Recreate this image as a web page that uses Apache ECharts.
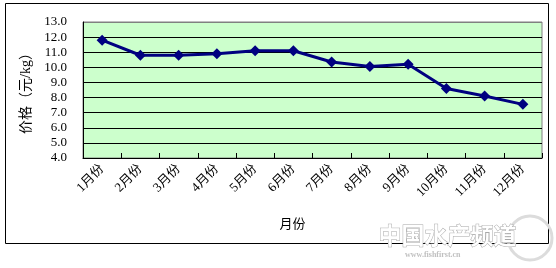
<!DOCTYPE html>
<html>
<head>
<meta charset="utf-8">
<script src="https://cdn.jsdelivr.net/npm/echarts@6/dist/echarts.min.js"></script>
<style>
html,body{margin:0;padding:0;background:#fff;}
#c{width:556px;height:268px;}
</style>
</head>
<body>
<div id="c"></div>
<script>
const categories = ['1月份','2月份','3月份','4月份','5月份','6月份','7月份','8月份','9月份','10月份','11月份','12月份'];
const prices = [11.8, 10.8, 10.8, 10.9, 11.1, 11.1, 10.35, 10.05, 10.2, 8.6, 8.1, 7.55];
const yAxisName = '价格（元/kg）';
const xAxisName = '月份';
const watermark = '中国水产频道';
const watermarkUrl = 'www.fishfirst.cn';

const FONT = '"Liberation Serif","Noto Sans CJK SC",serif';
const chart = echarts.init(document.getElementById('c'), null, {renderer:'canvas'});
chart.setOption({
  animation: false,
  backgroundColor: '#ffffff',
  graphic: [
    {type:'rect', shape:{x:5.5, y:3.5, width:543, height:240}, style:{fill:'none', stroke:'#000', lineWidth:1}, z:-1},
    {type:'rect', shape:{x:83, y:22, width:459, height:136}, style:{fill:'#ccffcc', stroke:'#808080', lineWidth:1}, z:-1},
    {type:'circle', shape:{cx:530, cy:238, r:22}, style:{fill:'none', stroke:'#dcdcdc', lineWidth:3}, z:9},
    {type:'text', left:378, top:223, style:{text:watermark, fill:'#ffffff', stroke:'#a8a8a8', lineWidth:1, font:'bold 23px "Noto Sans CJK SC"'}, z:10},
    {type:'text', left:405, top:251, style:{text:watermarkUrl, fill:'#c0c0c0', font:'bold 8px "Liberation Serif"'}, z:10}
  ],
  grid: {left:83, right:14, top:22, bottom:110, containLabel:false},
  xAxis: {
    type:'category',
    data: categories,
    boundaryGap: true,
    name: xAxisName,
    nameLocation: 'middle',
    nameGap: 60,
    nameTextStyle: {color:'#000', fontSize:13, fontFamily:FONT, padding:[0,40,0,0]},
    axisLine: {lineStyle:{color:'#000', width:1}},
    axisTick: {show:true, alignWithLabel:false, length:5, inside:true, lineStyle:{color:'#000'}},
    axisLabel: {rotate:45, color:'#000', fontSize:13, fontFamily:FONT, margin:9, interval:0},
    splitLine: {show:false}
  },
  yAxis: {
    type:'value',
    min:4, max:13, interval:1,
    name: yAxisName,
    nameLocation:'middle',
    nameGap:50,
    nameRotate:90,
    nameTextStyle: {color:'#000', fontSize:14, fontFamily:FONT},
    axisLine: {show:true, lineStyle:{color:'#000', width:1}},
    axisTick: {show:false},
    axisLabel: {color:'#000', fontSize:13, fontFamily:FONT, margin:16, formatter: v => v.toFixed(1)},
    splitLine: {show:true, lineStyle:{color:['#000','#000','#000','#000','#000','#000','#000','#000','#000','#808080'], width:1}}
  },
  series: [{
    type:'line',
    data: prices,
    symbol:'diamond',
    symbolSize:11,
    lineStyle:{color:'#000080', width:3},
    itemStyle:{color:'#000080'}
  }]
});
</script>
</body>
</html>
